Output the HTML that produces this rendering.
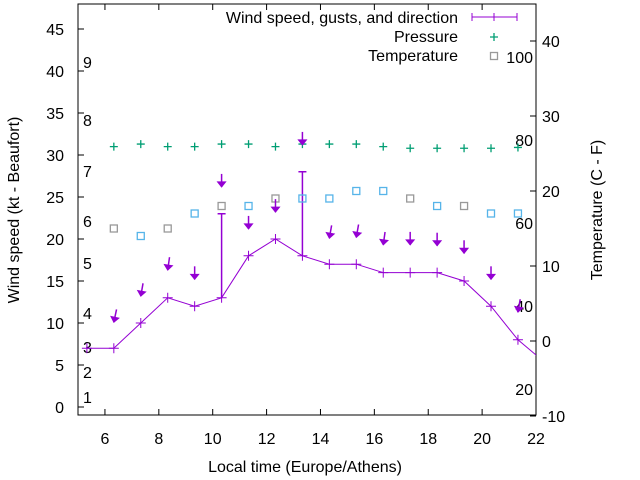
<!DOCTYPE html>
<html><head><meta charset="utf-8"><style>
body{margin:0;background:#fff}
svg{display:block;font-family:"Liberation Sans",sans-serif}
</style></head><body>
<svg id="c" width="640" height="480" viewBox="0 0 640 480" xmlns="http://www.w3.org/2000/svg"></svg>
<script>
const times=[5.33,6.33,7.33,8.33,9.33,10.33,11.33,12.33,13.33,14.33,15.33,16.33,17.33,18.33,19.33,20.33,21.33,22.33];
const windSpeed=[7,7,10,13,12,13,18,20,18,17,17,16,16,16,15,12,8,5.3];
const gustTimes=[10.33,13.33];
const gustBase=[13,18];
const gustTop=[23,28];
const obsTimes=[6.33,7.33,8.33,9.33,10.33,11.33,12.33,13.33,14.33,15.33,16.33,17.33,18.33,19.33,20.33,21.33];
const pressure=[31.0,31.3,31.0,31.0,31.3,31.3,31.0,31.3,31.3,31.3,31.0,30.8,30.8,30.8,30.8,30.9];
const temperature=[15,14,15,17,18,18,19,19,19,20,20,19,18,18,17,17];
const tempGray=[1,0,1,0,1,0,1,0,0,0,0,1,0,1,0,0];
const arrowTip=[10.1,13.2,16.3,15.2,26.2,21.2,23.2,31.2,20.1,20.2,19.3,19.3,19.2,18.3,15.2,11.3];
const arrowTilt=[12,10,8,0,0,0,0,0,10,10,8,0,0,0,0,10];
const xTicks=[6,8,10,12,14,16,18,20,22];
const yTicks=[0,5,10,15,20,25,30,35,40,45];
const y2Ticks=[-10,0,10,20,30,40];
const bftLabels=[["1",397],["2",372],["3",347],["4",313],["5",263],["6",221],["7",171],["8",120],["9",62]];
const fLabels=[["100",57],["80",140],["60",223],["40",306],["20",389]];

const L=78,R=536,T=4,B=415;
const X=t=>L+(t-5)*(R-L)/17;
const Y=v=>407-v*8.4;
const Y2=v=>191-(v-20)*7.5;
const svg=document.getElementById('c');
const NS='http://www.w3.org/2000/svg';
function mk(tag,at,parent){const e=document.createElementNS(NS,tag);for(const k in at)e.setAttribute(k,at[k]);(parent||svg).appendChild(e);return e;}
function txt(s,x,y,anchor,parent,extra){const e=mk('text',Object.assign({x:x,y:y,'font-size':16,'text-anchor':anchor||'start',fill:'#000'},extra||{}),parent);e.textContent=s;return e;}

// clip
const defs=mk('defs',{});const cp=mk('clipPath',{id:'pc'},defs);mk('rect',{x:L,y:T,width:R-L,height:B-T},cp);

// frame
const frame=mk('rect',{x:L,y:T,width:R-L,height:B-T,fill:'none',stroke:'#000','stroke-width':1});


const gx=mk('g',{});
xTicks.forEach(t=>{const x=X(t);mk('line',{x1:x,y1:B,x2:x,y2:B-6,stroke:'#000'},gx);mk('line',{x1:x,y1:T,x2:x,y2:T+6,stroke:'#000'},gx);txt(String(t),x,444,'middle',gx);});
const gy=mk('g',{});
yTicks.forEach(v=>{const y=Y(v);mk('line',{x1:L,y1:y,x2:L+6,y2:y,stroke:'#000'},gy);txt(String(v),64,y+6,'end',gy);});
const gy2=mk('g',{});
y2Ticks.forEach(v=>{const y=Y2(v);mk('line',{x1:R,y1:y,x2:R-6,y2:y,stroke:'#000'},gy2);txt(String(v),542,y+6,'start',gy2);});
const gb=mk('g',{});
bftLabels.forEach(b=>txt(b[0],83,b[1]+6,'start',gb));
const gf=mk('g',{});
fLabels.forEach(b=>txt(b[0],533,b[1]+6,'end',gf));

let t1=txt('Local time (Europe/Athens)',305,472,'middle');
let t2=txt('Wind speed (kt - Beaufort)',0,0,'middle',svg,{transform:'translate(19,210) rotate(-90)'});
let t3=txt('Temperature (C - F)',0,0,'middle',svg,{transform:'translate(602,210) rotate(-90)'});

const P='#9400d3',G='#009e73',BL='#56b4e9',GR='#999';
const plot=mk('g',{'clip-path':'url(#pc)'});
// wind line
const wl=mk('polyline',{points:times.map((t,i)=>X(t)+','+Y(windSpeed[i])).join(' '),fill:'none',stroke:P,'stroke-width':1},plot);

times.forEach((t,i)=>{const x=X(t),y=Y(windSpeed[i]);const m=mk('path',{d:`M${x-5},${y}h10M${x},${y-5}v10`,stroke:P,'stroke-width':1},plot);});
gustTimes.forEach((t,i)=>{const x=X(t);const m=mk('path',{d:`M${x},${Y(gustBase[i])}V${Y(gustTop[i])}M${x-4},${Y(gustTop[i])}h8`,stroke:P,'stroke-width':1.5},plot);});
// pressure
obsTimes.forEach((t,i)=>{const x=X(t),y=Y(pressure[i]);const m=mk('path',{d:`M${x-4},${y}h8M${x},${y-4}v8`,stroke:G,'stroke-width':1.3},plot);});
// temperature
obsTimes.forEach((t,i)=>{const x=X(t),y=Y2(temperature[i]);const m=mk('rect',{x:x-3.5,y:y-3.5,width:7,height:7,fill:'none',stroke:tempGray[i]?GR:BL,'stroke-width':1.3},plot);});
// arrows
obsTimes.forEach((t,i)=>{const x=X(t),y=Y(arrowTip[i]);const g=mk('g',{transform:`translate(${x},${y}) rotate(${arrowTilt[i]})`},plot);

mk('line',{x1:0,y1:-13,x2:0,y2:0,stroke:P,'stroke-width':1.5},g);mk('path',{d:'M-4,-5L0,0L4,-5Z',fill:P,stroke:P},g);});

// legend
const lg=mk('g',{});
txt('Wind speed, gusts, and direction',458,23,'end',lg);
mk('path',{d:'M472,17H517M472,13v8M517,13v8M494,13v8',stroke:P,'stroke-width':1},lg);
txt('Pressure',458,42,'end',lg);
mk('path',{d:'M490,37h8M494,33v8',stroke:G,'stroke-width':1.3},lg);
txt('Temperature',458,61,'end',lg);
mk('rect',{x:490.5,y:52.5,width:7,height:7,fill:'none',stroke:GR,'stroke-width':1.3},lg);
</script>
</body></html>
